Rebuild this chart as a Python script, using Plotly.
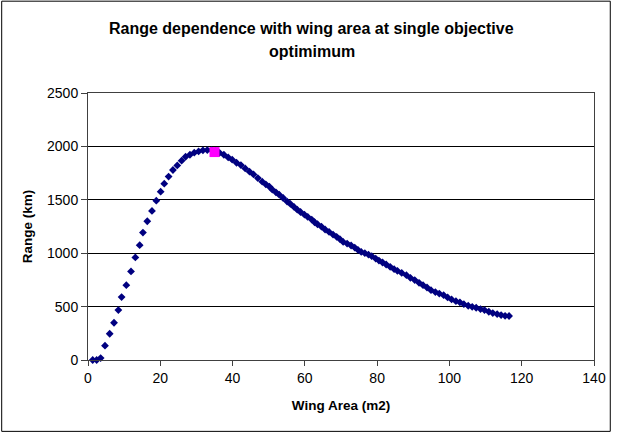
import plotly.graph_objects as go

# Wing area (m2) and range (km)
wing_area = [1.3, 2.4, 3.5, 4.7, 6.0, 7.2, 8.4, 9.3, 10.6, 11.9, 13.1, 14.3, 15.2, 16.4,
             17.7, 18.9, 20.1, 21.1, 22.3, 23.5, 24.7, 25.9, 27.0, 28.2, 29.4, 30.6, 31.8,
             33.0, 34.2, 35.3, 36.4, 37.6, 38.8, 39.9, 41.1, 42.3, 43.5, 44.7, 45.8, 47.0,
             48.2, 49.2, 50.2, 51.0, 52.0, 52.9, 54.0, 55.1, 56.0, 57.0, 57.9, 58.8, 59.9,
             60.8, 61.9, 62.7, 63.5, 64.6, 65.6, 66.7, 67.8, 68.8, 69.7, 70.6, 71.7, 72.8,
             73.8, 74.7, 75.6, 76.6, 77.6, 78.5, 79.6, 80.5, 81.5, 82.5, 83.6, 84.7, 85.6,
             86.8, 88.1, 89.2, 90.4, 91.6, 92.7, 93.8, 94.9, 96.1, 97.2, 98.4, 99.5, 100.6,
             101.8, 102.9, 104.0, 105.2, 106.3, 107.4, 108.6, 109.7, 110.9, 112.0, 113.2,
             114.3, 115.4, 116.5]
range_km = [0, 0, 18, 134, 246, 349, 467, 589, 701, 829, 960, 1075, 1193, 1299,
            1396, 1492, 1576, 1651, 1717, 1779, 1822, 1866, 1903, 1922, 1941, 1953, 1963,
            1966, 1964, 1957, 1940, 1922, 1897, 1876, 1847, 1825, 1794, 1763, 1738, 1703,
            1670, 1645, 1623, 1595, 1570, 1548, 1517, 1483, 1461, 1433, 1408, 1386, 1361,
            1340, 1315, 1290, 1271, 1248, 1222, 1199, 1174, 1153, 1131, 1106, 1090, 1072,
            1053, 1031, 1012, 1000, 987, 972, 950, 931, 913, 894, 872, 850, 835,
            815, 794, 769, 748, 723, 701, 679, 654, 636, 622, 607, 586, 567,
            551, 540, 523, 508, 498, 489, 477, 467, 452, 439, 430,
            421, 414, 412]

optimum_x = [35.0]
optimum_y = [1947]

x_ticks = [0, 20, 40, 60, 80, 100, 120, 140]
y_ticks = [0, 500, 1000, 1500, 2000, 2500]

title_lines = ["Range dependence with wing area at single objective", "optimimum"]

L, R, T, B = 88, 17, 92.5, 72
W, H = 618, 432
pw, ph = W - L - R, H - T - B

fig = go.Figure()
fig.add_trace(go.Scatter(x=wing_area, y=range_km, mode="markers",
                         marker=dict(symbol="diamond", size=6, color="#000080"),
                         cliponaxis=False, showlegend=False))
fig.add_trace(go.Scatter(x=optimum_x, y=optimum_y, mode="markers",
                         marker=dict(symbol="square", size=10, color="#FF00FF"),
                         cliponaxis=False, showlegend=False))

font = "Liberation Sans, Arial, sans-serif"
fig.update_layout(
    width=W, height=H,
    margin=dict(l=L, r=R, t=T, b=B, pad=0),
    paper_bgcolor="white", plot_bgcolor="white",
    font=dict(family=font, size=14, color="black"),
    xaxis=dict(range=[0, 140], tickvals=x_ticks, ticks="outside", ticklen=5,
               tickcolor="#404040", showline=True, linecolor="#404040", linewidth=1,
               mirror=True, showgrid=False, zeroline=False, tickfont=dict(size=14),
               title=dict(text="<b>Wing Area (m2)</b>", standoff=15, font=dict(size=13.5))),
    yaxis=dict(range=[0, 2500], tickvals=y_ticks, ticks="outside", ticklen=6,
               tickcolor="#404040", showline=True, linecolor="#404040", linewidth=1,
               mirror=True, showgrid=True, gridcolor="black", gridwidth=1, zeroline=False,
               tickfont=dict(size=14),
               title=dict(text="<b>Range (km)</b>", standoff=11, font=dict(size=13.5))),
)

ypos = [(360 - 27.5) / ph, (360 - 51) / ph]
for txt, yp in zip(title_lines, ypos):
    fig.add_annotation(text="<b>" + txt + "</b>", xref="paper", yref="paper",
                       x=(315 - L) / pw, y=yp, xanchor="center", yanchor="middle",
                       showarrow=False, font=dict(size=16, family=font, color="black"))

fig.add_shape(type="rect", xref="paper", yref="paper",
              x0=(0.5 - L) / pw, x1=(617.5 - L) / pw,
              y0=(360 - 431.5) / ph, y1=(360 - 0.5) / ph,
              line=dict(color="black", width=1), fillcolor="rgba(0,0,0,0)")

fig.write_html("out.html")
